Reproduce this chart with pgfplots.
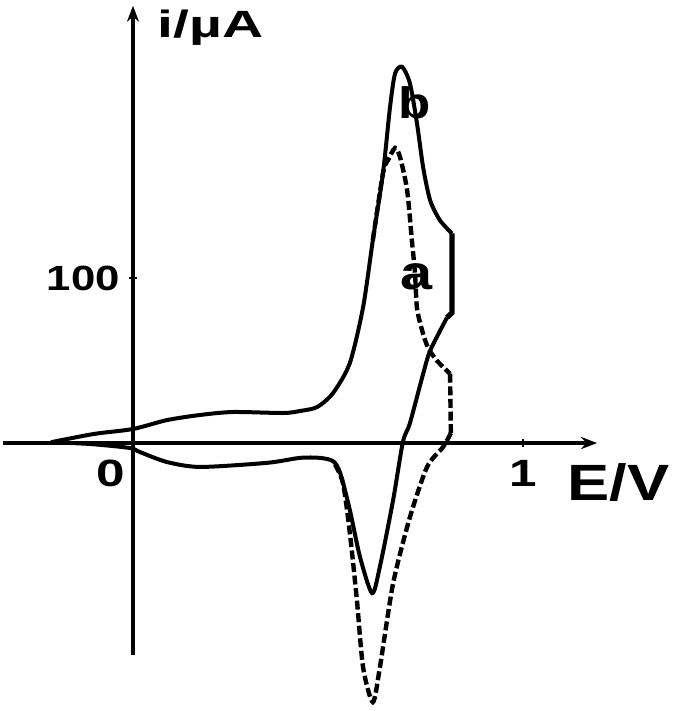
\documentclass[border=0pt]{standalone}
\usepackage{graphicx}
\usepackage{fontspec}
\setmainfont{Liberation Sans}
\usepackage{pgfplots}
\pgfplotsset{compat=1.18}
\usetikzlibrary{arrows.meta}

\begin{document}
\begin{tikzpicture}
\begin{axis}[
    x=195pt, y=0.825pt,
    xmin=-0.333, xmax=1.19,
    ymin=-128.5, ymax=265,
    axis lines=middle,
    axis line style={line width=1.8pt, -{Stealth[length=8pt,width=6pt]}},
    xtick={1}, ytick={100},
    xticklabels={\scalebox{1.3}[1]{\fontsize{19}{20}\selectfont\bfseries 1}},
    yticklabels={\scalebox{1.25}[1]{\fontsize{17.5}{18}\selectfont\bfseries 100}},
    xticklabel style={anchor=north, yshift=-3pt},
    yticklabel style={anchor=east, xshift=-1pt},
    tick align=center,
    major tick length=4pt,
    tick style={line width=1.4pt, black},
    clip=false,
]
% reference frame for the page size
\draw[draw=none] (axis cs:-0.341,-162.4) rectangle (axis cs:1.390,268.5);

% curve b (solid)
\addplot[black, line width=2pt, smooth, tension=0.45] coordinates {
(-0.21,0.5) (-0.10,5.5) (0,8.5) (0.087,13.9) (0.172,17) (0.256,18.8) (0.385,18.2)
(0.428,19.4) (0.472,21.8) (0.513,30.3) (0.556,48.5) (0.590,82.4) (0.615,123)
(0.641,163.6) (0.659,203.6) (0.672,224) (0.690,228) (0.710,218) (0.728,194)
(0.744,167) (0.762,147) (0.787,135) (0.818,127)
};
\addplot[black, line width=2.6pt] coordinates {
(0.818,127) (0.818,79) (0.805,76)
};
\addplot[black, line width=2pt, smooth, tension=0.45] coordinates {
(0.805,76) (0.762,56) (0.744,42) (0.710,12) (0.692,0.6) (0.667,-34.5)
(0.633,-75) (0.613,-91) (0.582,-69) (0.556,-40.6) (0.531,-18) (0.513,-11)
(0.479,-9) (0.428,-9) (0.344,-12) (0.172,-14.5) (0.087,-11.5) (0.018,-5.5)
(-0.008,-3) (-0.11,-0.6) (-0.21,0.5)
};

% curve a (dashed)
\addplot[black, line width=2.2pt, dash pattern=on 4.5pt off 1.8pt, smooth, tension=0.45] coordinates {
(0.615,123) (0.641,163.6) (0.654,171.5) (0.672,178.8) (0.685,173) (0.703,153)
(0.715,123) (0.723,103) (0.728,82) (0.741,68.5) (0.756,58) (0.779,50) (0.813,42)
};
\addplot[black, line width=2.2pt, dash pattern=on 4.5pt off 1.8pt] coordinates {
(0.813,42) (0.815,6)
};
\addplot[black, line width=2.2pt, dash pattern=on 4.5pt off 1.8pt, smooth, tension=0.45] coordinates {
(0.815,6) (0.795,-2.4) (0.754,-14.5) (0.710,-45) (0.667,-85) (0.633,-136)
(0.615,-157) (0.590,-136) (0.574,-95) (0.556,-54.5) (0.538,-24) (0.513,-11)
};

% labels
\node[anchor=north east, inner sep=0pt] at (axis cs:-0.02,-10)
  {\scalebox{1.35}[1]{\fontsize{19}{20}\selectfont\bfseries 0}};
\node[anchor=west, inner sep=0pt] at (axis cs:0.062,252)
  {\scalebox{1.5}[1]{\fontsize{19}{20}\selectfont\bfseries i/\textmu A}};
\node[anchor=west, inner sep=0pt] at (axis cs:1.113,-24)
  {\scalebox{1.24}[1]{\fontsize{25.5}{26}\selectfont\bfseries E/V}};
\node[inner sep=0pt] at (axis cs:0.721,206)
  {\scalebox{1.2}[1]{\fontsize{22}{24}\selectfont\bfseries b}};
\node[inner sep=0pt] at (axis cs:0.726,101)
  {\scalebox{1.2}[1]{\fontsize{24}{26}\selectfont\bfseries a}};
\end{axis}
\end{tikzpicture}
\end{document}
